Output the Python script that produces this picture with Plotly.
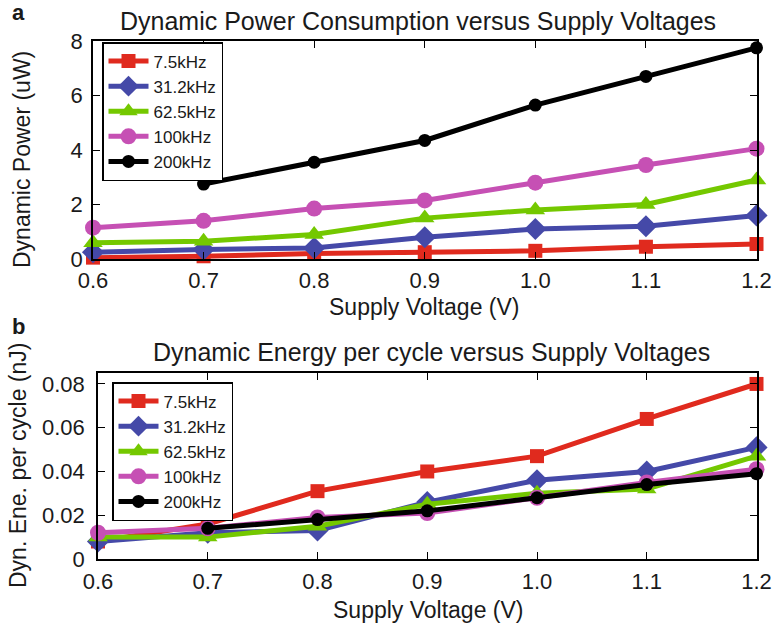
import plotly.graph_objects as go

voltage = [0.6, 0.7, 0.8, 0.9, 1.0, 1.1, 1.2]
series_names = ["7.5kHz", "31.2kHz", "62.5kHz", "100kHz", "200kHz"]

power_7_5k = [0.05, 0.10, 0.20, 0.25, 0.30, 0.45, 0.55]
power_31_2k = [0.25, 0.35, 0.40, 0.80, 1.10, 1.20, 1.60]
power_62_5k = [0.60, 0.65, 0.90, 1.50, 1.80, 2.00, 2.90]
power_100k = [1.15, 1.40, 1.85, 2.15, 2.80, 3.45, 4.05]
power_200k = [None, 2.75, 3.55, 4.35, 5.65, 6.70, 7.75]

energy_7_5k = [0.008, 0.016, 0.031, 0.040, 0.047, 0.064, 0.080]
energy_31_2k = [0.008, 0.012, 0.013, 0.026, 0.036, 0.040, 0.051]
energy_62_5k = [0.010, 0.010, 0.015, 0.025, 0.030, 0.032, 0.047]
energy_100k = [0.012, 0.014, 0.019, 0.021, 0.028, 0.035, 0.041]
energy_200k = [None, 0.014, 0.018, 0.022, 0.028, 0.034, 0.039]

x_ticks = [0.6, 0.7, 0.8, 0.9, 1.0, 1.1, 1.2]
x_ticktext = ["0.6", "0.7", "0.8", "0.9", "1.0", "1.1", "1.2"]
p_ticks = [0, 2, 4, 6, 8]
e_ticks = [0, 0.02, 0.04, 0.06, 0.08]
e_ticktext = ["0", "0.02", "0.04", "0.06", "0.08"]

colors = ["#E02A1E", "#4549A8", "#74C800", "#C650B4", "#000000"]
symbols = ["square", "diamond", "triangle-up", "circle", "circle"]
msizes = [14, 17, 17, 16, 13]

FONT = "Liberation Sans, Arial, sans-serif"
TXT = "#1a1a1a"

fig = go.Figure()
power = [power_7_5k, power_31_2k, power_62_5k, power_100k, power_200k]
energy = [energy_7_5k, energy_31_2k, energy_62_5k, energy_100k, energy_200k]

for i, name in enumerate(series_names):
    fig.add_trace(go.Scatter(
        x=voltage, y=power[i], name=name, mode="lines+markers",
        line=dict(color=colors[i], width=5),
        marker=dict(symbol=symbols[i], size=msizes[i], color=colors[i]),
        xaxis="x", yaxis="y", legend="legend", connectgaps=False,
        cliponaxis=False))
for i, name in enumerate(series_names):
    fig.add_trace(go.Scatter(
        x=voltage, y=energy[i], name=name, mode="lines+markers",
        line=dict(color=colors[i], width=5),
        marker=dict(symbol=symbols[i], size=msizes[i], color=colors[i]),
        xaxis="x2", yaxis="y2", legend="legend2", connectgaps=False,
        cliponaxis=False))

W, H = 773, 626
def fx(px):
    return px / W
def fy(py):
    return 1 - py / H

axis_common = dict(
    showline=True, linecolor="black", linewidth=1.5, mirror="ticks",
    ticks="inside", ticklen=7, tickwidth=1.3, tickcolor="black",
    showgrid=False, zeroline=False, automargin=False,
    tickfont=dict(family=FONT, size=22, color=TXT),
)

legend_common = dict(
    bgcolor="white", bordercolor="black", borderwidth=1.5,
    font=dict(family=FONT, size=17, color=TXT),
    tracegroupgap=0, itemwidth=40,
    xanchor="left", yanchor="top",
)

fig.update_layout(
    template="none",
    width=W, height=H,
    margin=dict(l=0, r=0, t=0, b=0, autoexpand=False),
    font=dict(family=FONT, color=TXT),
    paper_bgcolor="white", plot_bgcolor="white",
    xaxis=dict(domain=[fx(93), fx(756.5)], range=[0.6, 1.2], tickvals=x_ticks,
               ticktext=x_ticktext, anchor="y", ticklabelstandoff=1, **axis_common),
    yaxis=dict(domain=[fy(259), fy(41)], range=[0, 8], tickvals=p_ticks,
               anchor="x", ticklabelstandoff=4, **axis_common),
    xaxis2=dict(domain=[fx(98), fx(756.5)], range=[0.6, 1.2], tickvals=x_ticks,
                ticktext=x_ticktext, anchor="y2", ticklabelstandoff=2, **axis_common),
    yaxis2=dict(domain=[fy(559), fy(373)], range=[0, 0.085], tickvals=e_ticks,
                ticktext=e_ticktext, anchor="x2", ticklabelstandoff=7, **axis_common),
    legend=dict(x=fx(102), y=fy(42), **legend_common),
    legend2=dict(x=fx(112), y=fy(382), **legend_common),
    showlegend=True,
)

annos = [
    dict(text="<b>a</b>", x=fx(10), y=fy(13), xanchor="left", yanchor="middle",
         font=dict(size=22)),
    dict(text="<b>b</b>", x=fx(10), y=fy(326), xanchor="left", yanchor="middle",
         font=dict(size=22)),
    dict(text="Dynamic Power Consumption versus Supply Voltages", x=fx(418), y=fy(21),
         xanchor="center", yanchor="middle", font=dict(size=25)),
    dict(text="Dynamic Energy per cycle versus Supply Voltages", x=fx(431), y=fy(352),
         xanchor="center", yanchor="middle", font=dict(size=25)),
    dict(text="Supply Voltage (V)", x=fx(424), y=fy(307), xanchor="center",
         yanchor="middle", font=dict(size=23)),
    dict(text="Supply Voltage (V)", x=fx(428), y=fy(610), xanchor="center",
         yanchor="middle", font=dict(size=23)),
    dict(text="Dynamic Power (uW)", x=fx(22), y=fy(160), xanchor="center",
         yanchor="middle", textangle=-90, font=dict(size=23)),
    dict(text="Dyn. Ene. per cycle (nJ)", x=fx(18), y=fy(466), xanchor="center",
         yanchor="middle", textangle=-90, font=dict(size=23)),
]
for a in annos:
    a["xref"] = "paper"
    a["yref"] = "paper"
    a["showarrow"] = False
    a["font"]["family"] = FONT
    a["font"]["color"] = TXT
fig.update_layout(annotations=annos)

fig.write_html("out.html")
